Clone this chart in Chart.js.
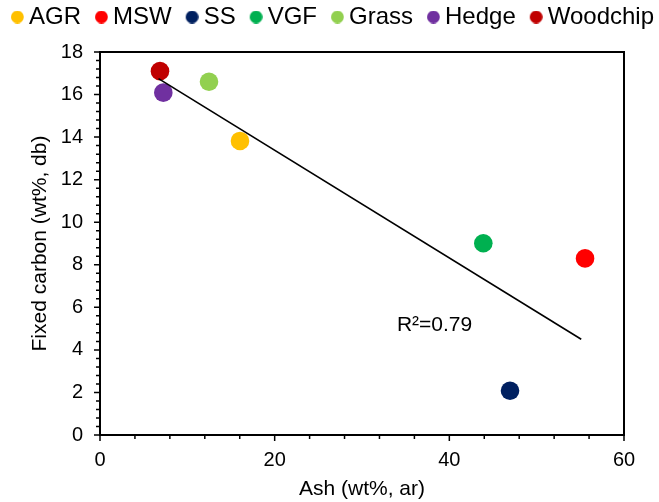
<!DOCTYPE html>
<html>
<head>
<meta charset="utf-8">
<script src="https://cdn.jsdelivr.net/npm/chart.js@4"></script>
<style>
html,body{margin:0;padding:0;background:#fff;}
canvas{display:block;}
</style>
</head>
<body>
<canvas id="c" width="659" height="502"></canvas>
<script>
// ---- data ----
const categories = ['AGR', 'MSW', 'SS', 'VGF', 'Grass', 'Hedge', 'Woodchip'];
const ashValues = [16.03, 55.54, 46.95, 43.89, 12.48, 7.25, 6.87];          // Ash (wt%, ar)
const fixedCarbonValues = [13.82, 8.30, 2.08, 9.01, 16.60, 16.09, 17.10];  // Fixed carbon (wt%, db)
const trendAsh = [6.7, 55.1];
const trendFixedCarbon = [16.75, 4.50];
const r2Text = 'R\u00B2=0.79';
const r2Anchor = [34.0, 4.89];            // data coordinates (ash, fixed carbon) of the label
const xTickValues = [0, 20, 40, 60];
const yTickValues = [0, 2, 4, 6, 8, 10, 12, 14, 16, 18];

// ---- styles ----
const colors = ['#FFC000', '#FF0000', '#002060', '#00B050', '#92D050', '#7030A0', '#C00000'];
const FONT = "'Liberation Sans', Arial, sans-serif";

function legendDot(color) {
  const c = document.createElement('canvas');
  c.width = 34; c.height = 13;
  const g = c.getContext('2d');
  g.fillStyle = color;
  g.beginPath();
  g.arc(27.4, 6.5, 6.4, 0, Math.PI * 2);
  g.fill();
  return c;
}

const datasets = categories.map((name, i) => ({
  label: name,
  data: [{ x: ashValues[i], y: fixedCarbonValues[i] }],
  backgroundColor: colors[i],
  borderColor: colors[i],
  pointRadius: 9.3,
  pointHoverRadius: 9.3,
  pointBorderWidth: 0,
  showLine: false,
  order: 1
}));
datasets.push({
  label: 'trend',
  data: trendAsh.map((x, i) => ({ x: x, y: trendFixedCarbon[i] })),
  showLine: true,
  borderColor: '#000',
  borderWidth: 1.6,
  pointRadius: 0,
  pointHoverRadius: 0,
  fill: false,
  order: 0
});

const legendFit = {
  id: 'legendFit',
  beforeInit(chart) {
    const lg = chart.legend;
    const orig = lg.fit;
    lg.fit = function () {
      const mw = this.maxWidth;
      this.maxWidth = mw + 40;
      orig.call(this);
      this.maxWidth = mw;
      this.width = mw;
      this.height = 47;
    };
  }
};

const frameAndTicks = {
  id: 'frameAndTicks',
  afterDraw(chart) {
    const { ctx, chartArea: a, scales: { x, y } } = chart;
    ctx.save();
    ctx.strokeStyle = '#000';
    ctx.lineWidth = 1.5;
    ctx.beginPath();
    for (let i = 0; i <= 15; i++) {
      const v = i * 4;
      const px = x.getPixelForValue(v);
      const len = (v % 20 === 0) ? 6 : 4;
      ctx.moveTo(px, a.bottom);
      ctx.lineTo(px, a.bottom + len);
    }
    for (let i = 0; i <= 45; i++) {
      const v = i * 0.4;
      const py = y.getPixelForValue(v);
      const len = (i % 5 === 0) ? 6 : 4;
      ctx.moveTo(a.left - len, py);
      ctx.lineTo(a.left, py);
    }
    ctx.stroke();
    ctx.lineWidth = 2;
    ctx.strokeRect(a.left, a.top, a.right - a.left, a.bottom - a.top);
    ctx.restore();
  }
};

const r2Plugin = {
  id: 'r2Label',
  afterDatasetsDraw(chart) {
    const { ctx, scales: { x, y } } = chart;
    ctx.save();
    ctx.font = '21px ' + FONT;
    ctx.fillStyle = '#000';
    ctx.textAlign = 'left';
    ctx.textBaseline = 'alphabetic';
    ctx.fillText(r2Text, x.getPixelForValue(r2Anchor[0]), y.getPixelForValue(r2Anchor[1]));
    ctx.restore();
  }
};

new Chart(document.getElementById('c'), {
  type: 'scatter',
  data: { datasets: datasets },
  plugins: [legendFit, frameAndTicks, r2Plugin],
  options: {
    responsive: false,
    animation: false,
    devicePixelRatio: 1,
    layout: { padding: { top: 5, right: 0, bottom: 0, left: -3 } },
    plugins: {
      tooltip: { enabled: false },
      legend: {
        position: 'top',
        align: 'start',
        labels: {
          usePointStyle: true,
          boxWidth: 20,
          padding: 0,
          color: '#000',
          font: { size: 24, family: FONT },
          filter: (item) => item.datasetIndex < categories.length,
          generateLabels(chart) {
            const items = Chart.defaults.plugins.legend.labels.generateLabels(chart);
            items.forEach(it => {
              if (it.datasetIndex < categories.length) it.pointStyle = legendDot(colors[it.datasetIndex]);
            });
            return items;
          }
        }
      }
    },
    scales: {
      x: {
        type: 'linear',
        position: 'bottom',
        min: 0,
        max: 60,
        afterBuildTicks(s) { s.ticks = xTickValues.map(v => ({ value: v })); },
        afterFit(s) { s.height = 67; },
        ticks: { color: '#000', font: { size: 20, family: FONT }, padding: 13, maxRotation: 0 },
        grid: { display: false, drawTicks: false },
        border: { display: false },
        title: {
          display: true,
          text: 'Ash (wt%, ar)',
          color: '#000',
          font: { size: 21, family: FONT },
          padding: { top: 0, bottom: 0 }
        }
      },
      y: {
        type: 'linear',
        min: 0,
        max: 18,
        afterBuildTicks(s) { s.ticks = yTickValues.map(v => ({ value: v })); },
        afterFit(s) { s.width = 103; },
        ticks: { color: '#000', font: { size: 20, family: FONT }, padding: 17 },
        grid: { display: false, drawTicks: false },
        border: { display: false },
        title: {
          display: true,
          text: 'Fixed carbon (wt%, db)',
          color: '#000',
          font: { size: 21, family: FONT },
          padding: { top: 31, bottom: 0 }
        }
      },
      rightMargin: {
        type: 'linear',
        position: 'right',
        display: true,
        min: 0,
        max: 18,
        afterFit(s) { s.width = 35; },
        ticks: { display: false },
        grid: { display: false, drawTicks: false },
        border: { display: false }
      }
    }
  }
});
</script>
</body>
</html>
